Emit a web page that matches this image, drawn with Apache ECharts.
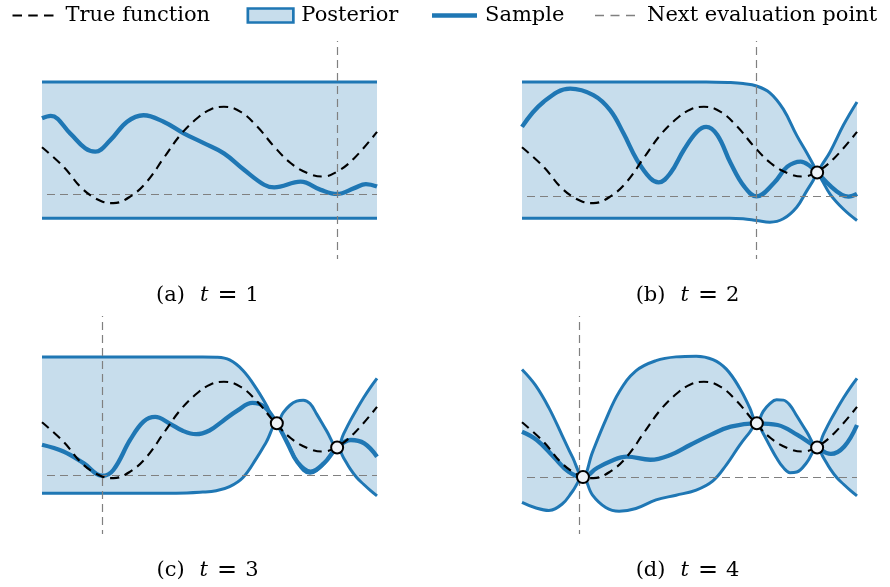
<!DOCTYPE html>
<html>
<head>
<meta charset="utf-8">
<script src="https://cdn.jsdelivr.net/npm/echarts@6/dist/echarts.min.js"></script>
<style>
html,body{margin:0;padding:0;background:#fff;}
#main{width:890px;height:587px;}
</style>
</head>
<body>
<div id="main"></div>
<script>
// ---------- data (x in [0,1], y in prior-sigma units) ----------
const legendNames = ['True function', 'Posterior', 'Sample', 'Next evaluation point'];
const captions = ['(a)', '(b)', '(c)', '(d)'];
const stepLabels = ['1', '2', '3', '4'];

// true objective (identical in all four panels)
const trueFunction = [[0,0.08],[0.064,-0.49],[0.124,-1.17],[0.179,-1.51],[0.213,-1.56],[0.263,-1.37],[0.313,-0.93],[0.363,-0.24],[0.413,0.44],[0.463,0.93],[0.503,1.19],[0.543,1.27],[0.593,1.12],[0.643,0.68],[0.693,0.10],[0.743,-0.39],[0.793,-0.68],[0.837,-0.78],[0.882,-0.63],[0.932,-0.24],[1.0,0.53]];

// panel (a) t = 1
const bandXA = [0, 1];
const upperA = [2, 2];
const lowerA = [-2, -2];
const sampleA = [[0,0.93],[0.026,1.0],[0.084,0.49],[0.129,0.05],[0.159,-0.05],[0.204,0.29],[0.254,0.83],[0.303,1.02],[0.363,0.83],[0.423,0.49],[0.483,0.20],[0.543,-0.10],[0.603,-0.58],[0.663,-1.02],[0.693,-1.10],[0.772,-0.93],[0.832,-1.17],[0.881,-1.29],[0.932,-1.12],[0.967,-1.00],[1.0,-1.07]];
const obsA = [];
const nextA = 0.881, bestA = -1.29;

// panel (b) t = 2
const bandXB = [0, 0.2, 0.4, 0.55, 0.62, 0.66, 0.70, 0.74, 0.78, 0.82, 0.85, 0.87, 0.881, 0.895, 0.92, 0.96, 1.0];
const upperB = [2, 2, 2, 2, 1.98, 1.95, 1.88, 1.68, 1.20, 0.43, -0.08, -0.44, -0.66, -0.44, -0.05, 0.74, 1.41];
const lowerB = [-2, -2, -2, -2, -2.0, -2.02, -2.07, -2.12, -2.02, -1.68, -1.20, -0.88, -0.66, -0.88, -1.30, -1.74, -2.07];
const sampleB = [[0,0.68],[0.064,1.41],[0.144,1.80],[0.213,1.61],[0.263,1.17],[0.303,0.49],[0.343,-0.29],[0.383,-0.83],[0.408,-0.95],[0.443,-0.68],[0.483,0.0],[0.523,0.54],[0.55,0.68],[0.583,0.44],[0.623,-0.39],[0.663,-1.07],[0.70,-1.36],[0.752,-0.97],[0.792,-0.49],[0.832,-0.34],[0.862,-0.49],[0.881,-0.66],[0.922,-1.07],[0.955,-1.32],[0.975,-1.37],[1.0,-1.29]];
const obsB = [[0.881,-0.66]];
const nextB = 0.70, bestB = -1.35;

// panel (c) t = 3
const bandXC = [0, 0.2, 0.4, 0.48, 0.52, 0.56, 0.60, 0.64, 0.67, 0.701, 0.72, 0.74, 0.76, 0.78, 0.80, 0.82, 0.85, 0.881, 0.90, 0.92, 0.94, 0.96, 0.98, 1.0];
const upperC = [2, 2, 2, 2.0, 1.99, 1.91, 1.60, 1.07, 0.58, 0.05, 0.36, 0.58, 0.70, 0.73, 0.63, 0.32, -0.18, -0.66, -0.27, 0.12, 0.47, 0.80, 1.10, 1.37];
const lowerC = [-2, -2, -2, -1.97, -1.93, -1.81, -1.54, -0.98, -0.49, 0.05, -0.27, -0.65, -1.05, -1.33, -1.42, -1.34, -1.04, -0.66, -0.96, -1.29, -1.55, -1.74, -1.92, -2.08];
const sampleC = [[0,-0.58],[0.064,-0.78],[0.124,-1.12],[0.18,-1.49],[0.213,-1.32],[0.263,-0.44],[0.303,0.10],[0.338,0.24],[0.38,0.05],[0.42,-0.17],[0.46,-0.27],[0.50,-0.16],[0.54,0.12],[0.583,0.42],[0.628,0.65],[0.663,0.54],[0.701,0.05],[0.733,-0.54],[0.763,-1.10],[0.802,-1.37],[0.842,-1.12],[0.881,-0.66],[0.922,-0.44],[0.962,-0.54],[1.0,-0.93]];
const obsC = [[0.701,0.05],[0.881,-0.66]];
const nextC = 0.18, bestC = -1.47;

// panel (d) t = 4
const bandXD = [0, 0.04, 0.08, 0.12, 0.15, 0.182, 0.21, 0.25, 0.29, 0.34, 0.40, 0.46, 0.52, 0.57, 0.61, 0.65, 0.68, 0.701, 0.72, 0.74, 0.76, 0.78, 0.80, 0.82, 0.85, 0.881, 0.90, 0.92, 0.94, 0.96, 0.98, 1.0];
const upperD = [1.63, 1.17, 0.51, -0.31, -0.93, -1.53, -0.81, 0.15, 0.97, 1.59, 1.89, 2.0, 2.02, 1.92, 1.64, 1.08, 0.50, 0.05, 0.40, 0.63, 0.74, 0.73, 0.58, 0.27, -0.20, -0.66, -0.27, 0.12, 0.47, 0.80, 1.10, 1.37];
const lowerD = [-2.27, -2.43, -2.51, -2.32, -1.96, -1.53, -2.05, -2.42, -2.53, -2.45, -2.20, -2.06, -1.91, -1.64, -1.17, -0.59, -0.21, 0.05, -0.25, -0.62, -0.97, -1.25, -1.40, -1.38, -1.10, -0.66, -0.96, -1.29, -1.55, -1.74, -1.92, -2.08];
const sampleD = [[0,-0.20],[0.044,-0.44],[0.094,-0.93],[0.139,-1.37],[0.182,-1.53],[0.223,-1.27],[0.263,-1.07],[0.313,-0.93],[0.383,-1.02],[0.443,-0.88],[0.503,-0.58],[0.563,-0.29],[0.623,-0.05],[0.701,0.05],[0.763,0.0],[0.822,-0.29],[0.881,-0.66],[0.922,-0.85],[0.962,-0.63],[1.0,0.0]];
const obsD = [[0.182,-1.53],[0.701,0.05],[0.881,-0.66]];
const nextD = 0.172, bestD = -1.53;

// ---------- chart ----------
const BLUE = '#1f77b4';
const FILL = '#c7ddec';
const GRAY = '#808080';
const FONT = 'DejaVu Serif';
const SMOOTH = 0.4;

const panels = [
  {bx: bandXA, up: upperA, lo: lowerA, sample: sampleA, obs: obsA, next: nextA, best: bestA},
  {bx: bandXB, up: upperB, lo: lowerB, sample: sampleB, obs: obsB, next: nextB, best: bestB},
  {bx: bandXC, up: upperC, lo: lowerC, sample: sampleC, obs: obsC, next: nextC, best: bestC},
  {bx: bandXD, up: upperD, lo: lowerD, sample: sampleD, obs: obsD, next: nextD, best: bestD}
];
const gridPos = [
  {left: 42, top: 41, width: 335, height: 218},
  {left: 522, top: 41, width: 335, height: 218},
  {left: 42, top: 316, width: 335, height: 218},
  {left: 522, top: 316, width: 335, height: 218}
];
const captionPos = [[207.5, 295.5], [687.5, 295.5], [207.5, 570.5], [687.5, 570.5]];

const grid = [], xAxis = [], yAxis = [], series = [], graphic = [];
panels.forEach((p, k) => {
  grid.push(gridPos[k]);
  xAxis.push({type: 'value', gridIndex: k, min: 0, max: 1, show: false});
  yAxis.push({type: 'value', gridIndex: k, min: -3.2, max: 3.2, show: false});
  const common = {xAxisIndex: k, yAxisIndex: k, symbol: 'none', smooth: SMOOTH, silent: true};
  const upData = p.bx.map((x, i) => [x, p.up[i]]);
  const loData = p.bx.map((x, i) => [x, p.lo[i]]);
  // posterior band: fill under upper bound, then white fill under lower bound
  series.push(Object.assign({}, common, {
    type: 'line', name: 'Posterior', z: 1, data: upData,
    lineStyle: {width: 0, opacity: 0},
    areaStyle: {color: FILL, opacity: 1, origin: 'start'}
  }));
  series.push(Object.assign({}, common, {
    type: 'line', name: 'PosteriorMask', z: 1, data: loData,
    lineStyle: {width: 0, opacity: 0},
    areaStyle: {color: '#ffffff', opacity: 1, origin: 'start'}
  }));
  // band edges
  series.push(Object.assign({}, common, {
    type: 'line', name: 'Posterior', z: 3, data: upData,
    lineStyle: {color: BLUE, width: 3}
  }));
  series.push(Object.assign({}, common, {
    type: 'line', name: 'Posterior', z: 3, data: loData,
    lineStyle: {color: BLUE, width: 3}
  }));
  // sample
  series.push(Object.assign({}, common, {
    type: 'line', name: 'Sample', z: 4, data: p.sample,
    lineStyle: {color: BLUE, width: 4.3}
  }));
  // true function
  series.push(Object.assign({}, common, {
    type: 'line', name: 'True function', z: 5, data: trueFunction,
    itemStyle: {color: '#000'},
    lineStyle: {color: '#000', width: 2.1, type: [9, 6]}
  }));
  // next evaluation point markers
  series.push({
    type: 'line', name: 'Next evaluation point', xAxisIndex: k, yAxisIndex: k, z: 6,
    data: [], symbol: 'none', silent: true,
    itemStyle: {color: GRAY},
    lineStyle: {color: GRAY, width: 1.2, type: [8, 5]},
    markLine: {
      symbol: 'none', silent: true, animation: false, label: {show: false},
      emphasis: {disabled: true},
      lineStyle: {color: GRAY, width: 1.2, type: [8, 5], opacity: 1},
      data: [
        {xAxis: p.next, lineStyle: {color: GRAY, width: 1.2, type: [8, 5], dashOffset: 4}},
        {yAxis: p.best, lineStyle: {color: GRAY, width: 1.2, type: [8, 5], dashOffset: 8}}
      ]
    }
  });
  // observations
  series.push({
    type: 'scatter', name: 'Observations', xAxisIndex: k, yAxisIndex: k, z: 7, silent: true,
    data: p.obs, symbol: 'circle', symbolSize: 12,
    itemStyle: {color: '#eef3f8', borderColor: '#000', borderWidth: 2, opacity: 1}
  });
  // caption
  graphic.push({
    type: 'text', x: captionPos[k][0], y: captionPos[k][1], silent: true,
    style: {
      text: '{a|' + captions[k] + '}{t|t}{e|=}{n|' + stepLabels[k] + '}',
      align: 'center', verticalAlign: 'middle',
      fontFamily: FONT, fontSize: 21, fill: '#000',
      rich: {
        a: {fontFamily: FONT, fontSize: 21, padding: [0, 15, 0, 0]},
        t: {fontFamily: FONT, fontSize: 21, fontStyle: 'italic', padding: [0, 9, 0, 0]},
        e: {fontFamily: FONT, fontSize: 24, padding: [0, 8, 0, 0]},
        n: {fontFamily: FONT, fontSize: 21}
      }
    }
  });
});

const legendText = {fontFamily: FONT, fontSize: 21, color: '#000'};
const legend = [
  {left: 12.5, top: 5, padding: 0, itemWidth: 41, itemHeight: 2.2, symbolKeepAspect: false,
   textStyle: Object.assign({padding: [0, 0, 0, 7]}, legendText), selectedMode: false,
   data: [{name: legendNames[0], icon: 'path://M0,0h9.5v2h-9.5zM15.75,0h9.5v2h-9.5zM31.5,0h9.5v2h-9.5z',
           itemStyle: {color: '#000', borderWidth: 0}}]},
  {left: 246.5, top: 5, padding: 0, itemWidth: 45.5, itemHeight: 14,
   textStyle: Object.assign({padding: [0, 0, 0, 3]}, legendText), selectedMode: false,
   data: [{name: legendNames[1], icon: 'rect',
           itemStyle: {color: FILL, borderColor: BLUE, borderWidth: 2.7}}]},
  {left: 432, top: 5, padding: 0, itemWidth: 45, itemHeight: 4.3, symbolKeepAspect: false,
   textStyle: Object.assign({padding: [0, 0, 0, 3]}, legendText), selectedMode: false,
   data: [{name: legendNames[2], icon: 'rect', itemStyle: {color: BLUE, borderWidth: 0}}]},
  {left: 595, top: 5, padding: 0, itemWidth: 40, itemHeight: 1.3, symbolKeepAspect: false,
   textStyle: Object.assign({padding: [0, 0, 0, 7]}, legendText), selectedMode: false,
   data: [{name: legendNames[3], icon: 'path://M0,0h9v1h-9zM15.5,0h9v1h-9zM31,0h9v1h-9z',
           itemStyle: {color: GRAY, borderWidth: 0}}]}
];

const chart = echarts.init(document.getElementById('main'), null, {renderer: 'canvas'});
chart.setOption({
  animation: false,
  backgroundColor: '#fff',
  grid, xAxis, yAxis, series, legend, graphic
});
</script>
</body>
</html>
